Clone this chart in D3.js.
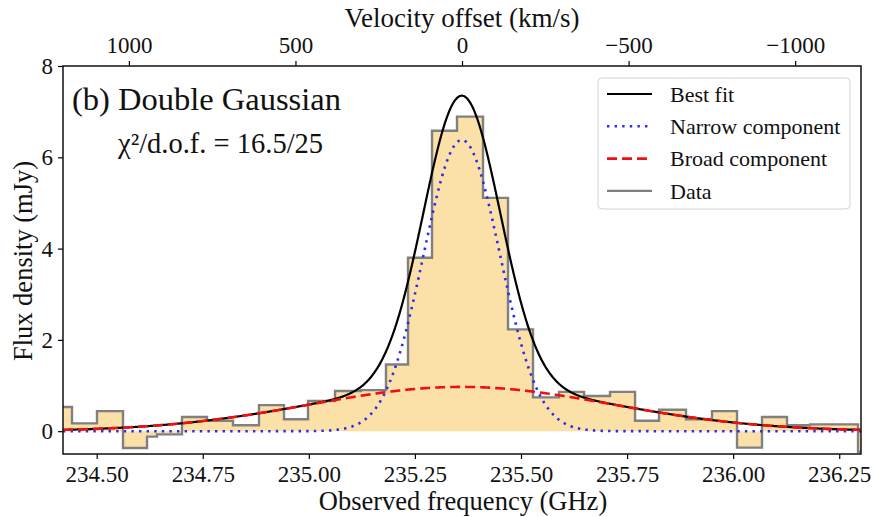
<!DOCTYPE html>
<html>
<head>
<meta charset="utf-8">
<script src="https://cdn.jsdelivr.net/npm/d3@7"></script>
<style>
  body { margin: 0; background: #fff; }
  text { font-family: "Liberation Serif", "Times New Roman", serif; fill: #111; }
</style>
</head>
<body>
<div id="chart"></div>
<script>
////////////////////////////////////
////////////// data ////////////////
////////////////////////////////////

// channel edges (GHz)
const binEdges = [234.400, 234.4418, 234.5007, 234.562, 234.6186, 234.6421, 234.701, 234.760,
    234.8213, 234.8825, 234.9415, 234.998, 235.0617, 235.123, 235.1818, 235.2337, 235.2903,
    235.3492, 235.4105, 235.4694, 235.5283, 235.5896, 235.6486, 235.7098, 235.7688, 235.8253,
    235.8889, 235.9502, 236.0091, 236.068, 236.127, 236.1812, 236.238, 236.2943, 236.330]

// flux density in each channel (mJy)
const fluxValues = [0.53, 0.17, 0.44, -0.37, -0.12, -0.07, 0.31, 0.23, 0.13, 0.57,
    0.26, 0.66, 0.88, 0.90, 1.46, 3.80, 6.58, 6.89, 5.11, 2.23,
    0.74, 0.86, 0.77, 0.86, 0.23, 0.47, 0.26, 0.44, -0.36, 0.31,
    0.13, 0.15, 0.15, -0.45]

// gaussian fit parameters: [amplitude (mJy), centre (GHz), sigma (GHz)]
const narrowFit = [6.38, 235.3605, 0.090]
const broadFit = [0.97, 235.360, 0.355]

const freqTicks = [234.50, 234.75, 235.00, 235.25, 235.50, 235.75, 236.00, 236.25]
const fluxTicks = [0, 2, 4, 6, 8]
const velocityTicks = [1000, 500, 0, -500, -1000]
const legendLabels = ['Best fit', 'Narrow component', 'Broad component', 'Data']

const restFreq = 235.361 // zero velocity (GHz)
const cLight = 299792.458

////////////////////////////////////
//////////// SVG Setup /////////////
////////////////////////////////////

const svgWidth = 873
const svgHeight = 517
const margin = { left: 63, right: 12, top: 66, bottom: 63 }
const width = svgWidth - margin.left - margin.right
const height = svgHeight - margin.top - margin.bottom

const root = d3.select('#chart')
    .append('svg')
    .attr('width', svgWidth)
    .attr('height', svgHeight)

const svg = root.append('g')
    .attr('transform', 'translate(' + margin.left + ',' + margin.top + ')')

svg.append('clipPath').attr('id', 'clip')
    .append('rect').attr('width', width).attr('height', height)

////////////////////////////////////
//////////////scales////////////////
////////////////////////////////////

const xScale = d3.scaleLinear().domain([234.4206, 236.3013]).range([0, width])
const yScale = d3.scaleLinear().domain([-0.5, 8]).range([height, 0])

const toVelocity = f => cLight * (1 - f / restFreq)
const vScale = d3.scaleLinear()
    .domain(xScale.domain().map(toVelocity))
    .range([0, width])

////////////////////////////////////
////////////// marks ///////////////
////////////////////////////////////

const bins = fluxValues.map((v, i) => ({ x: binEdges[i], y: v }))
bins.push({ x: binEdges[binEdges.length - 1], y: fluxValues[fluxValues.length - 1] })

const plot = svg.append('g').attr('clip-path', 'url(#clip)')

plot.append('path')
    .datum(bins)
    .attr('d', d3.area().curve(d3.curveStepAfter)
        .x(d => xScale(d.x)).y0(yScale(0)).y1(d => yScale(d.y)))
    .attr('fill', '#fbe0a8')

plot.append('path')
    .datum(bins)
    .attr('d', d3.line().curve(d3.curveStepAfter)
        .x(d => xScale(d.x)).y(d => yScale(d.y)))
    .attr('fill', 'none')
    .attr('stroke', '#808080')
    .attr('stroke-width', 2.4)

const gauss = (p, f) => p[0] * Math.exp(-((f - p[1]) ** 2) / (2 * p[2] * p[2]))
const freqGrid = d3.range(xScale.domain()[0], xScale.domain()[1] + 0.001, 0.002)

const lineStyles = [
    { color: '#000', dash: null, w: 2.2 },
    { color: '#2b2bf0', dash: '2.4,5.2', w: 2.6 },
    { color: '#f01010', dash: '10,5', w: 2.6 },
    { color: '#808080', dash: null, w: 2.4 }
]

const models = [
    f => gauss(narrowFit, f) + gauss(broadFit, f),
    f => gauss(narrowFit, f),
    f => gauss(broadFit, f)
]

models.forEach((m, i) => {
    plot.append('path')
        .datum(freqGrid)
        .attr('d', d3.line().x(d => xScale(d)).y(d => yScale(m(d))))
        .attr('fill', 'none')
        .attr('stroke', lineStyles[i].color)
        .attr('stroke-width', lineStyles[i].w)
        .attr('stroke-dasharray', lineStyles[i].dash)
})

////////////////////////////////////
///////////////axis/////////////////
////////////////////////////////////

const styleAxis = g => {
    g.select('.domain').remove()
    g.selectAll('.tick line').attr('stroke', '#000').attr('stroke-width', 1.2)
    g.selectAll('.tick text').attr('font-size', 23).attr('fill', '#111')
        .style('font-family', '"Liberation Serif", "Times New Roman", serif')
}

svg.append('g')
    .attr('transform', 'translate(0,' + height + ')')
    .call(d3.axisBottom(xScale).tickValues(freqTicks).tickFormat(d3.format('.2f')).tickSize(5))
    .call(styleAxis)
    .call(g => g.selectAll('.tick text').attr('y', 28).attr('dy', null))

svg.append('g')
    .call(d3.axisLeft(yScale).tickValues(fluxTicks).tickSize(5))
    .call(styleAxis)
    .call(g => g.selectAll('.tick text').attr('x', -10).attr('dy', '0.33em'))

svg.append('g')
    .call(d3.axisTop(vScale).tickValues(velocityTicks).tickSize(5)
        .tickFormat(d => d < 0 ? '\u2212' + Math.abs(d) : d))
    .call(styleAxis)
    .call(g => g.selectAll('.tick text').attr('y', -13).attr('dy', null))

// frame
svg.append('rect')
    .attr('width', width).attr('height', height)
    .attr('fill', 'none').attr('stroke', '#111').attr('stroke-width', 1.5)

// axis labels
root.append('text')
    .attr('x', 463).attr('y', 510)
    .attr('text-anchor', 'middle').attr('font-size', 26.5)
    .text('Observed frequency (GHz)')

root.append('text')
    .attr('x', 462).attr('y', 27)
    .attr('text-anchor', 'middle').attr('font-size', 27)
    .text('Velocity offset (km/s)')

root.append('text')
    .attr('transform', 'translate(32,261) rotate(-90)')
    .attr('text-anchor', 'middle').attr('font-size', 26.5)
    .text('Flux density (mJy)')

// annotations
root.append('text')
    .attr('x', 72).attr('y', 110).attr('font-size', 32.5)
    .text('(b) Double Gaussian')

root.append('text')
    .attr('x', 118).attr('y', 153).attr('font-size', 28.5)
    .text('\u03c7\u00b2/d.o.f. = 16.5/25')

////////////////////////////////////
////////////// legend //////////////
////////////////////////////////////

const legend = root.append('g').attr('transform', 'translate(598,78)')

legend.append('rect')
    .attr('width', 252).attr('height', 131).attr('rx', 4)
    .attr('fill', '#fff').attr('fill-opacity', 0.85)
    .attr('stroke', '#d4d4d4').attr('stroke-width', 1)

legendLabels.forEach((label, i) => {
    const yy = 16 + i * 32.3
    legend.append('line')
        .attr('x1', 9).attr('x2', 54).attr('y1', yy).attr('y2', yy)
        .attr('stroke', lineStyles[i].color)
        .attr('stroke-width', lineStyles[i].w)
        .attr('stroke-dasharray', lineStyles[i].dash)
    legend.append('text')
        .attr('x', 72).attr('y', yy).attr('dy', '0.35em')
        .attr('font-size', 22)
        .text(label)
})
</script>
</body>
</html>
